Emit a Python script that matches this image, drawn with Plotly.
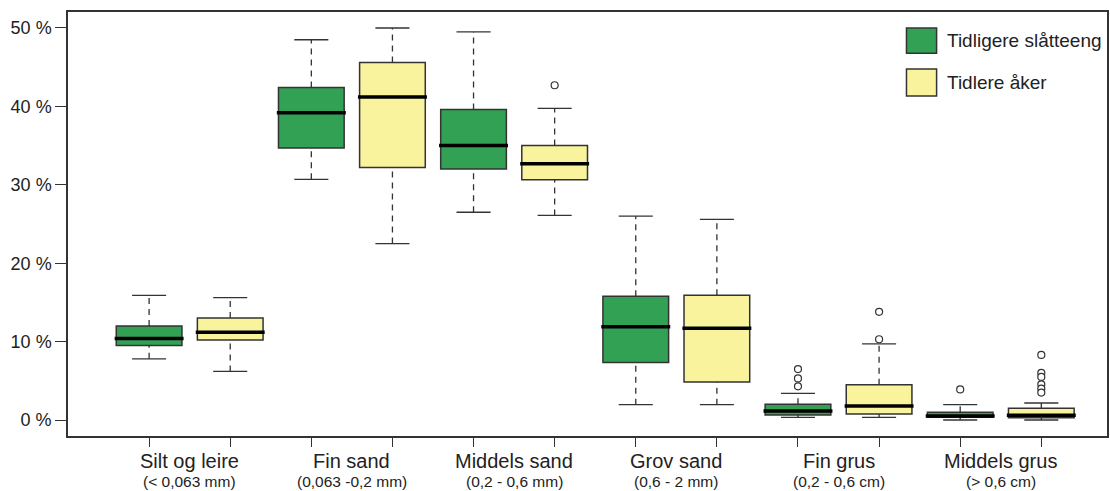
import plotly.graph_objects as go

# ---- data (percent) ----
categories = ["Silt og leire", "Fin sand", "Middels sand", "Grov sand", "Fin grus", "Middels grus"]
subtitles = ["(< 0,063 mm)", "(0,063 -0,2 mm)", "(0,2 - 0,6 mm)", "(0,6 - 2 mm)", "(0,2 - 0,6 cm)", "(> 0,6 cm)"]
series_names = ["Tidligere slåtteeng", "Tidlere åker"]

green_lo = [7.8, 30.7, 26.5, 1.95, 0.34, 0.0]
green_q1 = [9.5, 34.7, 32.0, 7.35, 0.64, 0.34]
green_med = [10.4, 39.2, 35.0, 11.9, 1.15, 0.5]
green_q3 = [12.0, 42.4, 39.6, 15.8, 2.0, 0.98]
green_hi = [15.9, 48.5, 49.5, 26.0, 3.4, 1.95]
green_out = [[], [], [], [], [6.5, 5.3, 4.3], [3.9]]

yellow_lo = [6.2, 22.5, 26.1, 1.95, 0.34, 0.0]
yellow_q1 = [10.2, 32.2, 30.65, 4.85, 0.77, 0.3]
yellow_med = [11.2, 41.2, 32.7, 11.7, 1.8, 0.6]
yellow_q3 = [13.0, 45.6, 35.0, 15.9, 4.5, 1.49]
yellow_hi = [15.6, 50.0, 39.75, 25.6, 9.7, 2.17]
yellow_out = [[], [], [42.7], [], [13.8, 10.3], [8.3, 6.0, 5.5, 4.55, 4.0, 3.5]]

y_ticks = [0, 10, 20, 30, 40, 50]

GREEN = "#33a154"
YELLOW = "#f8f39c"
EDGE = "#333333"
BOX_W = 0.81
CAP_W = 0.42

fig = go.Figure()

def add_series(pos, lo, q1, med, q3, hi, outs, color, name):
    # dashed whiskers
    wx, wy = [], []
    for p, a, b, c, d in zip(pos, lo, q1, q3, hi):
        wx += [p, p, None, p, p, None]
        wy += [a, b, None, c, d, None]
    fig.add_trace(go.Scatter(x=wx, y=wy, mode="lines", showlegend=False, hoverinfo="skip",
                             line=dict(color=EDGE, width=1.3, dash="6px,5px")))
    # caps
    cx, cy = [], []
    for p, a, d in zip(pos, lo, hi):
        cx += [p - CAP_W / 2, p + CAP_W / 2, None, p - CAP_W / 2, p + CAP_W / 2, None]
        cy += [a, a, None, d, d, None]
    fig.add_trace(go.Scatter(x=cx, y=cy, mode="lines", showlegend=False, hoverinfo="skip",
                             line=dict(color=EDGE, width=1.3)))
    # boxes
    fig.add_trace(go.Box(x=pos, q1=q1, median=med, q3=q3, lowerfence=q1, upperfence=q3,
                         width=BOX_W, fillcolor=color, line=dict(color=EDGE, width=1.5),
                         name=name, showlegend=False, boxpoints=False))
    # thick medians
    mx, my = [], []
    for p, m in zip(pos, med):
        mx += [p - BOX_W / 2 - 0.02, p + BOX_W / 2 + 0.02, None]
        my += [m, m, None]
    fig.add_trace(go.Scatter(x=mx, y=my, mode="lines", showlegend=False, hoverinfo="skip",
                             line=dict(color="black", width=3.5)))
    # outliers
    ox, oy = [], []
    for p, o in zip(pos, outs):
        for v in o:
            ox.append(p)
            oy.append(v)
    fig.add_trace(go.Scatter(x=ox, y=oy, mode="markers", showlegend=False, hoverinfo="skip",
                             marker=dict(symbol="circle", size=7, color="white",
                                         line=dict(color=EDGE, width=1.2))))

n = len(categories)
green_pos = [2 * i + 1 for i in range(n)]
yellow_pos = [2 * i + 2 for i in range(n)]

add_series(green_pos, green_lo, green_q1, green_med, green_q3, green_hi, green_out, GREEN, series_names[0])
add_series(yellow_pos, yellow_lo, yellow_q1, yellow_med, yellow_q3, yellow_hi, yellow_out, YELLOW, series_names[1])

FONT = "Liberation Sans, Arial, sans-serif"

annotations = []
for i, (c, s) in enumerate(zip(categories, subtitles)):
    xc = 2 * i + 1.5
    annotations.append(dict(x=xc, y=0, xref="x", yref="paper", text=c, showarrow=False,
                             yanchor="middle", yshift=-25, font=dict(size=20, color="#222", family=FONT)))
    annotations.append(dict(x=xc, y=0, xref="x", yref="paper", text=s, showarrow=False,
                             yanchor="middle", yshift=-45, font=dict(size=15.5, color="#222", family=FONT)))

# manual legend
shapes = []
leg_colors = [GREEN, YELLOW]
leg_y = [(0.962, 0.903), (0.8656, 0.8019)]
for (y1, y0), col, name in zip(leg_y, leg_colors, series_names):
    shapes.append(dict(type="rect", xref="paper", yref="paper", x0=0.807, x1=0.836, y0=y0, y1=y1,
                       fillcolor=col, line=dict(color=EDGE, width=1.5)))
    annotations.append(dict(x=0.8444, y=(y0 + y1) / 2, xref="paper", yref="paper", text=name,
                            showarrow=False, xanchor="left", yanchor="middle",
                            font=dict(size=19, color="#222", family=FONT)))

fig.update_layout(
    width=1110, height=491,
    margin=dict(l=68, r=1, t=12, b=55),
    paper_bgcolor="white", plot_bgcolor="white",
    showlegend=False,
    annotations=annotations,
    shapes=shapes,
    font=dict(family=FONT, color="#222"),
)
fig.update_xaxes(range=[0.0, 12.81], tickvals=list(range(1, 2 * n + 1)),
                 ticktext=[""] * (2 * n), ticks="outside", ticklen=9, tickcolor=EDGE, tickwidth=1.3,
                 showline=True, linecolor=EDGE, linewidth=1.5, mirror=True,
                 showgrid=False, zeroline=False)
fig.update_yaxes(range=[-2.04, 52.04], tickvals=y_ticks, ticktext=[f"{v} %" for v in y_ticks],
                 ticks="outside", ticklen=11, tickcolor=EDGE, tickwidth=1.3,
                 tickfont=dict(size=18, color="#222", family=FONT),
                 showline=True, linecolor=EDGE, linewidth=1.5, mirror=True,
                 showgrid=False, zeroline=False)

fig.write_html("out.html")
